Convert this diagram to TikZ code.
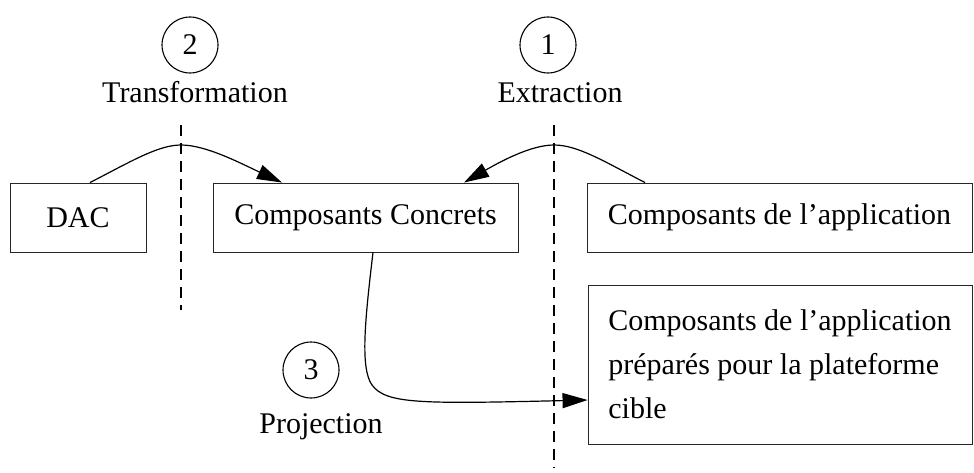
\documentclass[tikz,border=0pt]{standalone}
\usepackage{fontspec}
\setmainfont{Liberation Serif}
\usetikzlibrary{arrows.meta}
\begin{document}
\begin{tikzpicture}[x=1pt,y=-1pt,
  every node/.style={font=\fontsize{30}{44}\selectfont, inner sep=0pt},
  boxnode/.style={draw=black!85, line width=0.9pt, rectangle, minimum height=69pt},
  stepnum/.style={draw, circle, line width=1.1pt, minimum size=56pt},
  divider/.style={line width=1.1pt, dash pattern=on 11pt off 7pt},
  arr/.style={line width=1.2pt, -{Triangle[length=25pt,width=15pt]}}
]
\useasboundingbox (0,0) rectangle (974,473);

% boxes
\node[boxnode, minimum width=136pt] (dac) at (78,217.5) {DAC};
\node[boxnode, minimum width=305pt] (cc) at (365.5,217.5) {Composants Concrets};
\node[boxnode, minimum width=385pt] (ca) at (779.5,217.5) {Composants de l’application};
\node[boxnode, minimum width=384pt, minimum height=159pt, align=left] (cp) at (780,364.5)
  {Composants de l’application\\préparés pour la plateforme\\cible};

% step circles and labels
\node[stepnum] (c2) at (190,45) {2};
\node[anchor=base] (t2) at (195,103) {Transformation};
\node[stepnum] (c1) at (548,45) {1};
\node[anchor=base] (t1) at (560,103) {Extraction};
\node[stepnum] (c3) at (311,370) {3};
\node[anchor=base] (t3) at (321,433) {Projection};

% dashed dividers
\coordinate (d1a) at (181,125);
\coordinate (d1b) at (181,310);
\coordinate (d2a) at (554,125);
\coordinate (d2b) at (554,468);
\draw[divider] (d1a) -- (d1b);
\draw[divider] (d2a) -- (d2b);

% connectors
\draw[arr] ([xshift=12pt]dac.north) .. controls (130,162) and (158,145) .. (181,145)
  .. controls (206,145) and (240,163) .. ([xshift=-83.5pt]cc.north);
\draw[arr] ([xshift=-134.5pt]ca.north) .. controls (605,162) and (578,145) .. (554,145)
  .. controls (530,145) and (498,163) .. ([xshift=98.5pt]cc.north);
\draw[arr] ([xshift=7.5pt]cc.south) .. controls (365,320) and (360,368) .. (372,385)
  .. controls (386,404) and (420,404) .. ([yshift=-35.5pt]cp.west);
\end{tikzpicture}
\end{document}
